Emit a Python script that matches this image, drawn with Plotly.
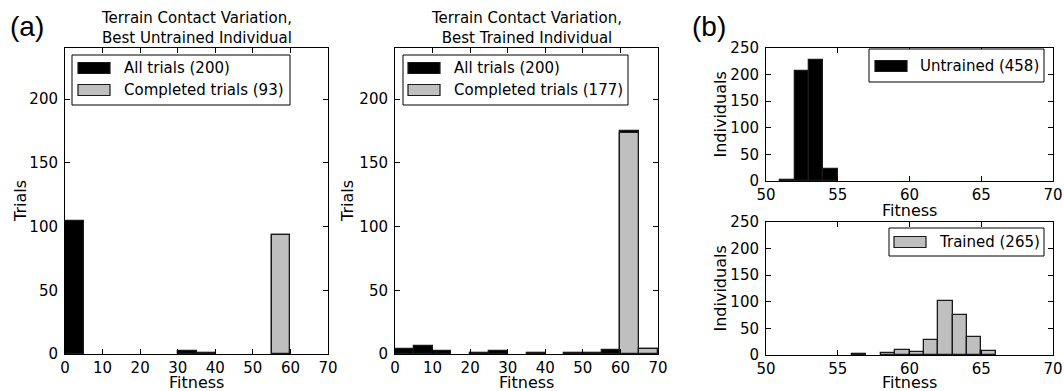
import plotly.graph_objects as go

# ---- data -------------------------------------------------------------
# Terrain contact variation histograms (bin width 5, fitness 0-70)
trial_bins = [0, 5, 10, 15, 20, 25, 30, 35, 40, 45, 50, 55, 60, 65]
untrained_all = [104, 0, 0, 0, 0, 0, 2, 1, 0, 0, 0, 93, 0, 0]
untrained_completed = [0, 0, 0, 0, 0, 0, 0, 0, 0, 0, 0, 93, 0, 0]
trained_all = [4, 6, 2, 0, 1, 2, 0, 1, 0, 1, 1, 3, 175, 4]
trained_completed = [0, 0, 0, 0, 0, 0, 0, 0, 0, 0, 0, 0, 173, 4]

# Population fitness histograms (bin width 1)
pop_bins_untrained = [51, 52, 53, 54]
pop_untrained = [1, 206, 228, 23]
pop_bins_trained = [56, 58, 59, 60, 61, 62, 63, 64, 65]
pop_trained = [1, 3, 9, 5, 29, 101, 76, 33, 8]

trial_xticks = [0, 10, 20, 30, 40, 50, 60, 70]
trial_yticks = [0, 50, 100, 150, 200]
pop_xticks = [50, 55, 60, 65, 70]
pop_yticks = [0, 50, 100, 150, 200, 250]

titles = ["Terrain Contact Variation,<br>Best Untrained Individual",
          "Terrain Contact Variation,<br>Best Trained Individual"]
legend_labels = [["All trials (200)", "Completed trials (93)"],
                 ["All trials (200)", "Completed trials (177)"],
                 ["Untrained (458)"],
                 ["Trained (265)"]]

# ---- style ------------------------------------------------------------
W, H = 1064, 391
BLACK = "#000000"
GRAY = "#bfbfbf"
EDGE = "#1a1a1a"
FONT = "DejaVu Sans"


def fx(px):
    """pixel column -> paper x"""
    return px / W


def fy(py):
    """pixel row -> paper y"""
    return 1 - py / H


fig = go.Figure()


def add_hist(lefts, counts, width, color, xa, ya):
    # empty bins are skipped so no edge line is stroked along the axis
    kept = [(x, c) for x, c in zip(lefts, counts) if c > 0]
    fig.add_trace(go.Bar(
        x=[k[0] for k in kept], y=[k[1] for k in kept],
        width=width, offset=0,
        marker=dict(color=color, line=dict(color=EDGE, width=1.3)),
        xaxis=xa, yaxis=ya, showlegend=False, hoverinfo="x+y",
    ))


add_hist(trial_bins, untrained_all, 5, BLACK, "x", "y")
add_hist(trial_bins, untrained_completed, 5, GRAY, "x", "y")
add_hist(trial_bins, trained_all, 5, BLACK, "x2", "y2")
add_hist(trial_bins, trained_completed, 5, GRAY, "x2", "y2")
add_hist(pop_bins_untrained, pop_untrained, 1, BLACK, "x3", "y3")
add_hist(pop_bins_trained, pop_trained, 1, GRAY, "x4", "y4")

axis_common = dict(
    showline=True, linecolor=BLACK, linewidth=1, mirror="allticks",
    ticks="inside", ticklen=5, tickwidth=1, tickcolor=BLACK,
    showgrid=False, zeroline=False, automargin=False,
    tickfont=dict(family=FONT, size=15, color=BLACK),
)

# panel pixel boxes: (left, right, top, bottom)
boxes = [(65, 328, 48, 354), (395, 658, 48, 354),
         (766, 1053, 48, 181), (766, 1053, 222, 355)]

layout_axes = {}
for i, (l, r, t, b) in enumerate(boxes):
    n = "" if i == 0 else str(i + 1)
    if i < 2:
        xr, xt, yr, yt = [0, 70], trial_xticks, [0, 240], trial_yticks
    else:
        xr, xt, yr, yt = [50, 70], pop_xticks, [0, 250], pop_yticks
    layout_axes["xaxis" + n] = dict(
        axis_common, domain=[fx(l), fx(r)], range=xr, tickvals=xt,
        anchor="y" + n)
    layout_axes["yaxis" + n] = dict(
        axis_common, domain=[fy(b), fy(t)], range=yr, tickvals=yt,
        anchor="x" + n, ticklabelstandoff=3)

fig.update_layout(**layout_axes)

annotations = []
shapes = []

# panel titles
for i in range(2):
    l, r, t, b = boxes[i]
    annotations.append(dict(
        text=titles[i], x=fx((l + r) / 2), y=fy(t + 1), xref="paper",
        yref="paper", xanchor="center", yanchor="bottom", showarrow=False,
        font=dict(family=FONT, size=15, color=BLACK)))

# axis labels
for i, (l, r, t, b) in enumerate(boxes):
    ylab = "Trials" if i < 2 else "Individuals"
    ylab_x = [20, 347, 720, 720][i]
    annotations.append(dict(
        text=ylab, x=fx(ylab_x), y=fy((t + b) / 2), xref="paper",
        yref="paper", xanchor="center", yanchor="middle", textangle=-90,
        showarrow=False, font=dict(family=FONT, size=16, color=BLACK)))
    xlab_y = [382, 382, 210, 382][i]
    annotations.append(dict(
        text="Fitness", x=fx((l + r) / 2), y=fy(xlab_y), xref="paper",
        yref="paper", xanchor="center", yanchor="middle", showarrow=False,
        font=dict(family=FONT, size=16, color=BLACK)))

# panel letters
for letter, px, py in [("(a)", 8, 27), ("(b)", 690, 27)]:
    annotations.append(dict(
        text=letter, x=fx(px), y=fy(py), xref="paper", yref="paper",
        xanchor="left", yanchor="middle", showarrow=False,
        font=dict(family="Liberation Sans", size=28, color=BLACK)))

# legends: (box left, right, top, bottom), handle x range, text x, row centres
legend_geo = [
    ((72, 290, 55, 105), (78, 110), 122, [68, 90], [BLACK, GRAY]),
    ((403, 628, 55, 105), (408, 440), 452, [68, 90], [BLACK, GRAY]),
    ((869, 1044, 49, 82), (875, 907), 918, [66], [BLACK]),
    ((889, 1044, 228, 256), (894, 926), 937, [242], [GRAY]),
]
for labels, (box, hx, tx, rows, colors) in zip(legend_labels, legend_geo):
    bl, br, bt, bb = box
    shapes.append(dict(type="rect", xref="paper", yref="paper",
                       x0=fx(bl), x1=fx(br), y0=fy(bb), y1=fy(bt),
                       line=dict(color=BLACK, width=1), fillcolor="white",
                       layer="above"))
    for lab, cy, col in zip(labels, rows, colors):
        shapes.append(dict(type="rect", xref="paper", yref="paper",
                           x0=fx(hx[0]), x1=fx(hx[1]),
                           y0=fy(cy + 5.5), y1=fy(cy - 5.5),
                           line=dict(color=EDGE, width=1.2), fillcolor=col,
                           layer="above"))
        annotations.append(dict(
            text=lab, x=fx(tx), y=fy(cy), xref="paper", yref="paper",
            xanchor="left", yanchor="middle", showarrow=False,
            font=dict(family=FONT, size=15, color=BLACK)))

fig.update_layout(
    template="none",
    width=W, height=H,
    margin=dict(l=0, r=0, t=0, b=0, pad=0, autoexpand=False),
    paper_bgcolor="white", plot_bgcolor="white",
    barmode="overlay", bargap=0,
    annotations=annotations, shapes=shapes,
)

fig.write_html("out.html")
